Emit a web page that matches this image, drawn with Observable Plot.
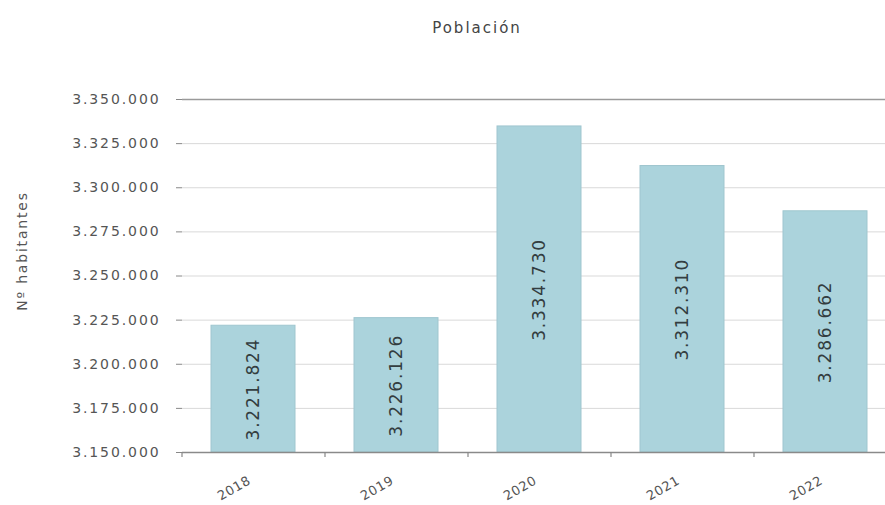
<!DOCTYPE html>
<html>
<head>
<meta charset="utf-8">
<script src="https://cdn.jsdelivr.net/npm/d3@7"></script>
<script src="https://cdn.jsdelivr.net/npm/@observablehq/plot@0.6"></script>
<style>
  html, body { margin: 0; padding: 0; background: #fff; overflow: hidden; }
  body { width: 885px; height: 505px; }
  g[aria-label="y-axis tick label"] text { letter-spacing: 1.9px; }
  g[aria-label="x-axis tick label"] text { letter-spacing: 0.6px; }
</style>
</head>
<body>
<div id="chart"></div>
<script>
const title = "Población";
const yTitle = "Nº habitantes";
const years = ["2018", "2019", "2020", "2021", "2022"];
const population = [3221824, 3226126, 3334730, 3312310, 3286662];
const yTicks = [3150000, 3175000, 3200000, 3225000, 3250000, 3275000, 3300000, 3325000, 3350000];
const yMin = 3150000, yMax = 3350000;

const data = years.map((y, i) => ({year: y, value: population[i]}));
const es = d3.formatLocale({decimal: ",", thousands: ".", grouping: [3], currency: ["", " €"]});
const fmt = es.format(",");
const font = "DejaVu Sans, Verdana, sans-serif";

// band-boundary ticks on the x axis
function boundaryTicks(index, scales, values, dimensions) {
  const {width, height, marginLeft, marginRight, marginBottom} = dimensions;
  const n = years.length;
  const step = (width - marginRight - marginLeft) / n;
  const g = d3.create("svg:g");
  for (let i = 0; i < n; i++) {
    const x = marginLeft + i * step;
    g.append("line")
      .attr("x1", x).attr("x2", x)
      .attr("y1", height - marginBottom).attr("y2", height - marginBottom + 5)
      .attr("stroke", "#888").attr("stroke-width", 1.2);
  }
  return g.node();
}

const chart = Plot.plot({
  width: 885,
  height: 505,
  marginTop: 99,
  marginBottom: 53,
  marginLeft: 182,
  marginRight: -12,
  style: {fontFamily: font, background: "#fff", maxWidth: "none"},
  x: {domain: years, paddingInner: 0.41, paddingOuter: 0.205, axis: null, label: null},
  y: {domain: [yMin, yMax], axis: null, label: null},
  marks: [
    Plot.gridY(yTicks, {stroke: "#d9d9d9", strokeOpacity: 1, strokeWidth: 1}),
    Plot.ruleY([yMax], {stroke: "#9a9a9a", strokeWidth: 1.5}),
    Plot.barY(data, {x: "year", y1: yMin, y2: "value", fill: "#abd3dc", stroke: "#9fc6cf", strokeWidth: 1}),
    Plot.ruleX([0], {frameAnchor: "left", stroke: "#7a7a7a", strokeWidth: 1.5}),
    Plot.ruleY([yMin], {stroke: "#8a8a8a", strokeWidth: 1.5}),
    Plot.axisY({
      ticks: yTicks,
      tickFormat: fmt,
      tickSize: 6,
      tickPadding: 16,
      label: null,
      stroke: "#888",
      fill: "#555",
      fontSize: 14
    }),
    Plot.text([yTitle], {
      frameAnchor: "left",
      textAnchor: "middle",
      dx: -160, dy: -25,
      rotate: -90,
      fontSize: 14,
      fill: "#555"
    }),
    Plot.axisX({
      tickSize: 0,
      tickRotate: -30,
      tickPadding: 27,
      textAnchor: "end",
      label: null,
      dx: -4,
      fontSize: 13,
      fill: "#555"
    }),
    boundaryTicks,
    Plot.text(data, {
      x: "year",
      y: d => (d.value + yMin) / 2,
      text: d => fmt(d.value),
      rotate: -90,
      fontSize: 17,
      fill: "#333d40"
    }),
    Plot.text([title], {
      frameAnchor: "top",
      lineAnchor: "middle",
      dx: -63, dy: -71,
      fontSize: 15,
      fill: "#444"
    })
  ]
});
const svg = d3.select(chart);
svg.selectAll("text")
  .filter(function() { return this.textContent === title; })
  .style("letter-spacing", "2px");
svg.selectAll("text")
  .filter(function() { return this.textContent === yTitle; })
  .style("letter-spacing", "1.8px");
svg.selectAll("text")
  .filter(function() { return population.map(fmt).includes(this.textContent); })
  .style("letter-spacing", "1.8px");
document.getElementById("chart").appendChild(chart);
</script>
</body>
</html>
